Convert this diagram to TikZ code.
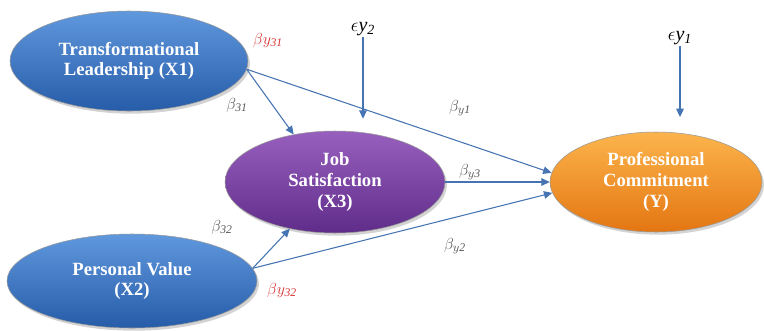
\documentclass[tikz,border=0pt]{standalone}
\usepackage{fontspec}
\setmainfont{Liberation Serif}
\usepackage{tikz}
\usetikzlibrary{positioning,arrows.meta,shapes.geometric,shadows}
\definecolor{blueL}{RGB}{96,152,222}
\definecolor{blueD}{RGB}{38,92,168}
\definecolor{purL}{RGB}{152,96,190}
\definecolor{purD}{RGB}{96,44,138}
\definecolor{orL}{RGB}{252,180,76}
\definecolor{orD}{RGB}{228,118,18}
\definecolor{arrcolor}{RGB}{70,116,178}
\definecolor{lblgray}{RGB}{85,85,85}
\definecolor{lblred}{RGB}{214,50,50}
\tikzset{
  var/.style={ellipse, draw=white!60!black, line width=0.4pt, inner sep=0pt, align=center, text=white, font=\fontsize{14}{15.5}\selectfont\bfseries, drop shadow={opacity=0.35, shadow xshift=1.5pt, shadow yshift=-2pt}},
  xvar/.style={var, top color=blueL, bottom color=blueD},
  mvar/.style={var, top color=purL, bottom color=purD},
  yvar/.style={var, top color=orL, bottom color=orD},
  path/.style={-{Triangle[length=2.2mm,width=2mm]}, line width=0.8pt, draw=arrcolor},
  coef/.style={font=\fontsize{12.5}{13}\selectfont, text=lblgray},
  rcoef/.style={coef, text=lblred},
  err/.style={font=\fontsize{15}{16}\selectfont, inner sep=1pt},
}
\begin{document}
\begin{tikzpicture}[x=0.75pt,y=-0.75pt]
\useasboundingbox (0,0) rectangle (764,330);
\node[xvar, minimum width=178.5pt, minimum height=75pt] (x1) at (129,61) {Transformational\\Leadership (X1)};
\node[xvar, minimum width=187.5pt, minimum height=70.5pt] (x2) at (132,281) {Personal Value\\(X2)};
\node[mvar, minimum width=165pt, minimum height=76.5pt] (x3) at (335,182) {Job\\Satisfaction\\(X3)};
\node[yvar, minimum width=159pt, minimum height=75pt] (y) at (656,182) {Professional\\Commitment\\(Y)};
\node[err] (e2) at (363,29) {$\epsilon\mathit{y}_{\mathit{2}}$};
\node[err] (e1) at (680,38) {$\epsilon\mathit{y}_{\mathit{1}}$};
\draw[path] (x1.-4) -- (x3.131);
\draw[path] (x1.-4) -- (y.175);
\draw[path] (x2.6) -- (x3.226);
\draw[path] (x2.6) -- (y.186);
\draw[path] (x3.east) -- (y.west);
\draw[path, shorten >=9pt] (e2.south) -- (e2.south |- x3.north);
\draw[path, shorten >=11pt] (e1.south) -- (e1.south |- y.north);
\node[rcoef] (by31) at (268,40) {$\beta y_{\mathit{31}}$};
\node[coef] (b31) at (237,105) {$\beta_{\mathit{31}}$};
\node[coef] (by1) at (460,108) {$\beta_{y\mathit{1}}$};
\node[coef] (by3) at (470,172) {$\beta_{y\mathit{3}}$};
\node[coef] (b32) at (222,227) {$\beta_{\mathit{32}}$};
\node[coef] (by2) at (455,246) {$\beta_{y\mathit{2}}$};
\node[rcoef] (by32) at (282,290) {$\beta y_{\mathit{32}}$};
\end{tikzpicture}
\end{document}
